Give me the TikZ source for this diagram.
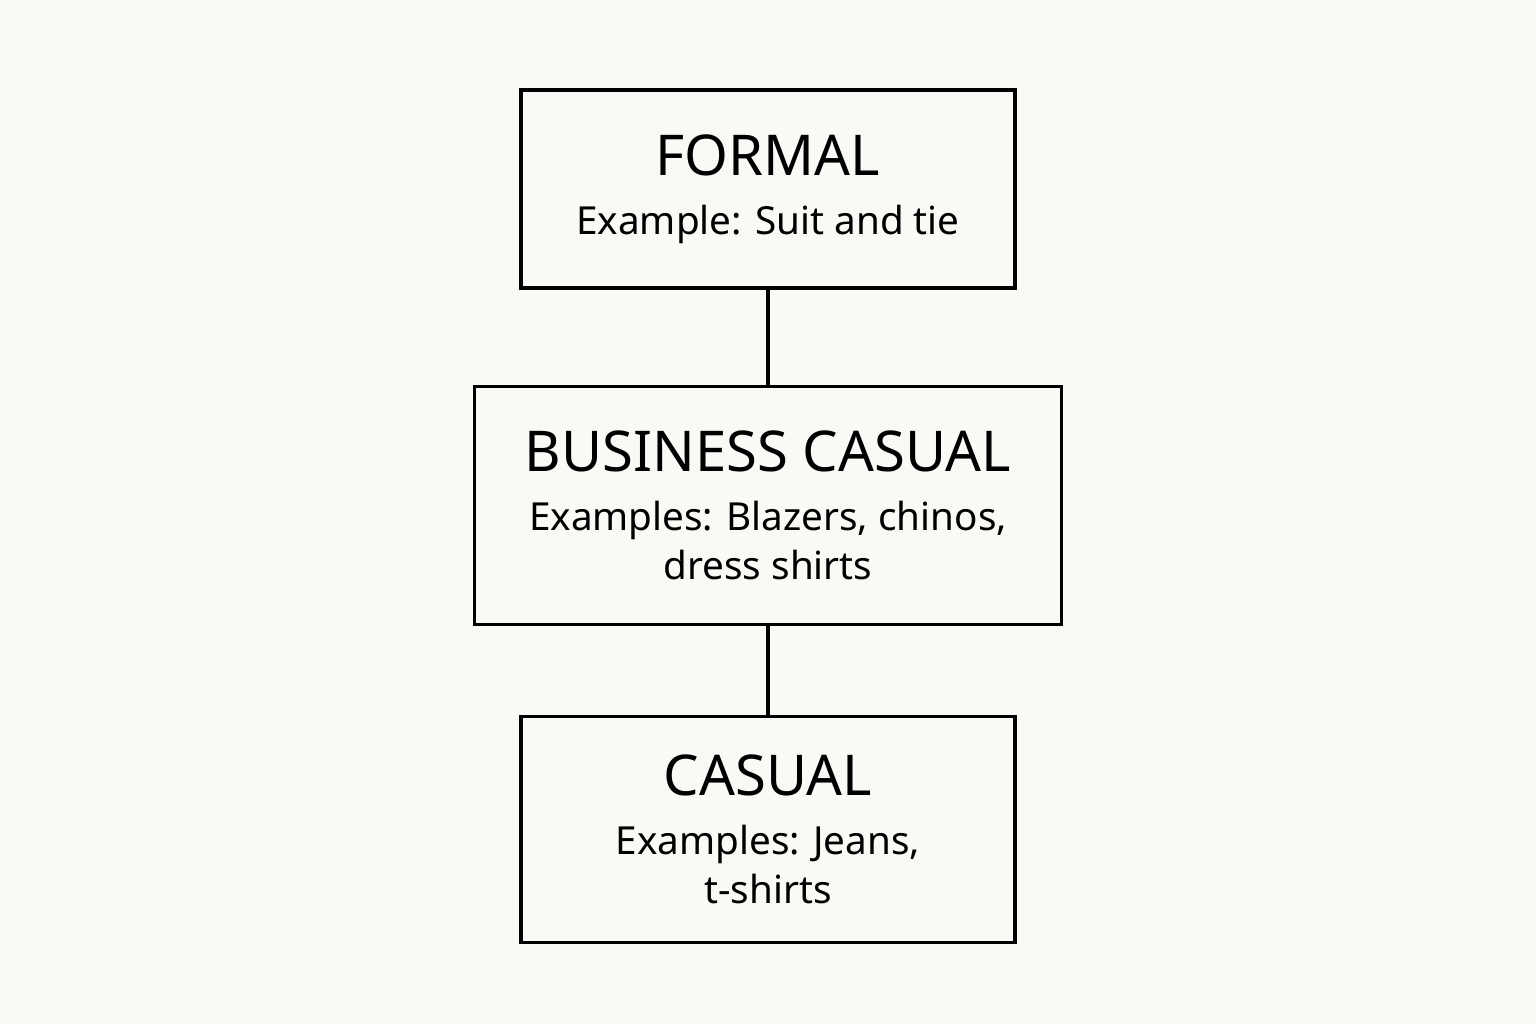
\documentclass[tikz,border=0pt]{standalone}
\usepackage{fontspec}
\setmainfont{Noto Sans}
\usetikzlibrary{positioning}
\definecolor{paper}{HTML}{FAF9F5}
\newcommand{\lvltitle}[1]{{\fontsize{16}{20}\selectfont\bfseries #1}\\[3pt]}
\tikzset{
  level/.style={draw,line width=0.9pt,align=center,inner sep=0pt,
    font=\fontsize{11}{13.8}\selectfont},
  link/.style={line width=0.9pt}
}
\begin{document}
\begin{tikzpicture}
\fill[paper] (0,0) rectangle (15.36,10.24);
\useasboundingbox (0,0) rectangle (15.36,10.24);

\node [level,minimum width=4.94cm,minimum height=1.98cm] (formal) at (7.68,8.35)
  {\lvltitle{FORMAL}Example: Suit and tie};
\node [level,minimum width=5.87cm,minimum height=2.38cm,below=0.95cm of formal] (business)
  {\lvltitle{BUSINESS CASUAL}Examples: Blazers, chinos,\\dress shirts};
\node [level,minimum width=4.94cm,minimum height=2.26cm,below=0.89cm of business] (casual)
  {\lvltitle{CASUAL}Examples: Jeans,\\t-shirts};

\draw [link] (formal.south) -- (business.north);
\draw [link] (business.south) -- (casual.north);

\end{tikzpicture}
\end{document}
